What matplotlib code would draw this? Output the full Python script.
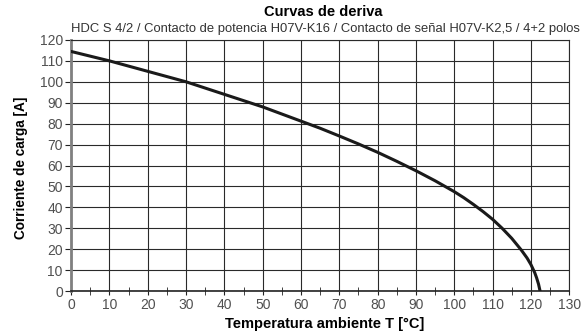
import matplotlib.pyplot as plt
import numpy as np

plt.rcParams['font.family'] = ['Liberation Sans', 'DejaVu Sans']

temp = [0, 10, 20, 30, 40, 50, 60, 65, 70, 75, 80, 85, 90, 95, 100, 102.5, 105, 107.5, 110,
        112.5, 115, 117.5, 119, 120, 121, 121.5, 122, 122.4]
current = [114.5, 110, 105, 100, 94, 88, 81.2, 77.8, 74.1, 70.3, 66.3, 62, 57.5, 52.7, 47.5, 44.6, 41.4, 38.0, 34.3,
           30, 25.2, 19.6, 15.8, 12.7, 8.8, 6.3, 3.3, 0]

xticks = np.arange(0, 131, 10)
yticks = np.arange(0, 121, 10)

fig = plt.figure(figsize=(5.88, 3.33), dpi=100)
ax = fig.add_axes([0.121, 0.126, 0.847, 0.754])

ax.plot(temp, current, color='#1a1a1a', lw=2.2, zorder=3, solid_joinstyle='round')

ax.set_xlim(0, 130)
ax.set_ylim(0, 120)
ax.set_xticks(xticks)
ax.set_yticks(yticks)
ax.set_xticks(np.arange(5, 130, 10), minor=True)
ax.grid(True, which='major', color='#2a2a2a', lw=0.8)
ax.tick_params(axis='both', which='major', labelsize=10, labelcolor='#505050', color='#222222', length=3, pad=2)
ax.tick_params(axis='y', which='major', length=4, pad=2)
ax.tick_params(axis='x', which='minor', direction='inout', length=6, color='#222222')
for s in ['top', 'right']:
    ax.spines[s].set_color('#2a2a2a')
    ax.spines[s].set_linewidth(0.8)
ax.spines['left'].set_color('#808080')
ax.spines['left'].set_linewidth(2)
ax.spines['bottom'].set_color('#222222')
ax.spines['bottom'].set_linewidth(1.2)

fig.text(0.55, 0.964, 'Curvas de deriva', ha='center', va='center', fontsize=10.5, fontweight='bold')
fig.text(0.553, 0.913, 'HDC S 4/2 / Contacto de potencia H07V-K16 / Contacto de señal H07V-K2,5 / 4+2 polos',
         ha='center', va='center', fontsize=9.4, color='#333333')
fig.text(0.553, 0.027, 'Temperatura ambiente T [°C]', ha='center', va='center', fontsize=10.5, fontweight='bold')
fig.text(0.036, 0.495, 'Corriente de carga [A]', ha='center', va='center', rotation=90,
         fontsize=9.8, fontweight='bold')

fig.savefig('out.png', dpi=100)
